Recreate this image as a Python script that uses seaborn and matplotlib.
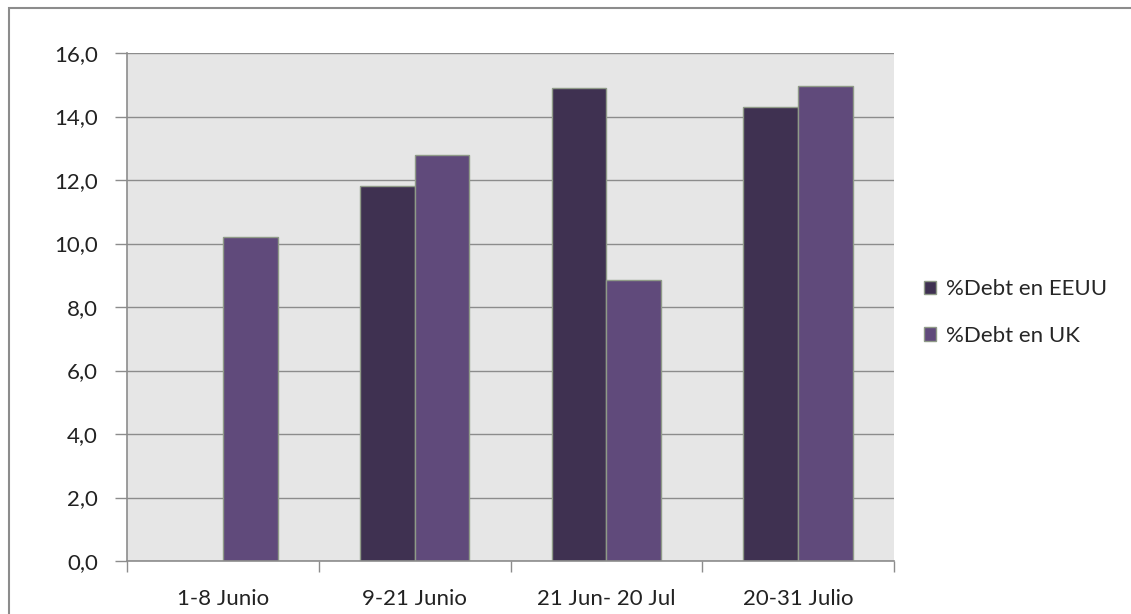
import numpy as np
import pandas as pd
import matplotlib
matplotlib.use('Agg')
import matplotlib.pyplot as plt
import seaborn as sns
from matplotlib.patches import Rectangle
from matplotlib.ticker import FixedLocator

# Data
periods = ['1-8 Junio', '9-21 Junio', '21 Jun- 20 Jul', '20-31 Julio']
eeuu = [np.nan, 11.8, 14.9, 14.3]
uk = [10.2, 12.8, 8.85, 14.95]
series = ['%Debt en EEUU', '%Debt en UK']
colors = ['#3f3151', '#604a7b']
yticks = [0, 2, 4, 6, 8, 10, 12, 14, 16]

df = pd.DataFrame({
    'periodo': periods * 2,
    'serie': [series[0]] * 4 + [series[1]] * 4,
    'valor': eeuu + uk,
})

sns.set_style('white')
plt.rcParams['font.family'] = ['Lato', 'DejaVu Sans']

fig = plt.figure(figsize=(11.31, 6.14), dpi=100)
ax = fig.add_axes([127 / 1131, 1 - 561 / 614, (894 - 127) / 1131, (561 - 53) / 614])

# outer frame
fig.patches.append(Rectangle((9 / 1131, -0.1), 1.2, 1 - 8 / 614 + 0.1, transform=fig.transFigure,
                             fill=False, edgecolor='#8c8c8c', linewidth=1.5))

sns.barplot(data=df, x='periodo', y='valor', hue='serie', palette=colors, width=0.57,
            edgecolor='#8f9a88', linewidth=1, saturation=1, ax=ax, legend=True)

ax.set_facecolor('#e6e6e6')
ax.set_ylim(0, 16)
ax.set_xlim(-0.5, 3.5)
ax.set_yticks(yticks)
ax.set_yticklabels([f'{v:.1f}'.replace('.', ',') for v in yticks], fontsize=16, color='#222222')
ax.yaxis.grid(True, color='#8c8c8c', linewidth=1)
ax.set_axisbelow(True)
ax.tick_params(axis='y', length=9, width=1, color='#8c8c8c', pad=12, left=True)

ax.set_xticks(range(4))
ax.set_xticklabels(periods, fontsize=16, color='#222222')
ax.xaxis.set_minor_locator(FixedLocator([-0.5, 0.5, 1.5, 2.5, 3.5]))
ax.tick_params(axis='x', which='major', length=0, pad=20)
ax.tick_params(axis='x', which='minor', length=8, width=1, color='#8c8c8c', bottom=True)

ax.set_xlabel('')
ax.set_ylabel('')
for s in ['top', 'right']:
    ax.spines[s].set_visible(False)
for s in ['left', 'bottom']:
    ax.spines[s].set_color('#8c8c8c')
    ax.spines[s].set_linewidth(1.2)

leg = ax.legend(loc='center left', bbox_to_anchor=(1.013, 0.489), frameon=False, fontsize=16,
                handlelength=0.55, handleheight=0.55, handletextpad=0.45, labelspacing=1.2)
for h in leg.legend_handles:
    h.set_edgecolor('#8f9a88')

fig.savefig('out.png', dpi=100)
